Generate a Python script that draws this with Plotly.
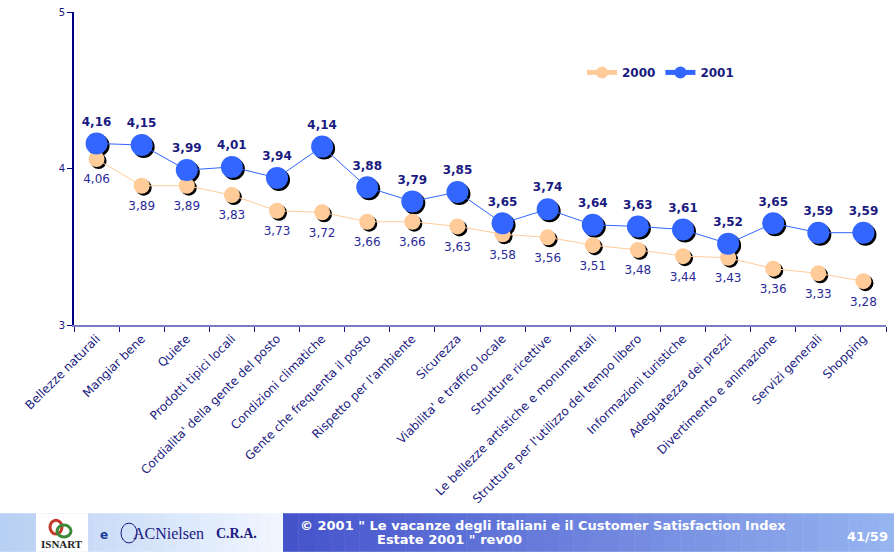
import plotly.graph_objects as go

categories = [
    "Bellezze naturali", "Mangiar bene", "Quiete", "Prodotti tipici locali",
    "Cordialita' della gente del posto", "Condizioni climatiche",
    "Gente che frequenta il posto", "Rispetto per l'ambiente", "Sicurezza",
    "Viabilita' e traffico locale", "Strutture ricettive",
    "Le bellezze artistiche e monumentali",
    "Strutture per l'utilizzo del tempo libero", "Informazioni turistiche",
    "Adeguatezza dei prezzi", "Divertimento e animazione",
    "Servizi generali", "Shopping",
]
values_2000 = [4.06, 3.89, 3.89, 3.83, 3.73, 3.72, 3.66, 3.66, 3.63,
               3.58, 3.56, 3.51, 3.48, 3.44, 3.43, 3.36, 3.33, 3.28]
values_2001 = [4.16, 4.15, 3.99, 4.01, 3.94, 4.14, 3.88, 3.79, 3.85,
               3.65, 3.74, 3.64, 3.63, 3.61, 3.52, 3.65, 3.59, 3.59]
y_ticks = [3, 4, 5]

W, H = 894, 554
L, R, T, B = 74, 6, 9, 227
pw = W - L - R      # 814
ph = H - T - B      # 318
sh = 2              # shadow offset in px

NAVY = "#1a1a80"
BLUE = "#3366ff"
ORANGE = "#ffcc99"
FONT = "DejaVu Sans"

fig = go.Figure()

# shadows (drawn on base subplot, shifted)
fig.add_trace(go.Scatter(x=categories, y=values_2000, mode="markers",
                         marker=dict(size=16, color="#000000"),
                         showlegend=False, hoverinfo="skip", cliponaxis=False,
                         xaxis="x", yaxis="y"))
fig.add_trace(go.Scatter(x=categories, y=values_2001, mode="markers",
                         marker=dict(size=22, color="#000000"),
                         showlegend=False, hoverinfo="skip", cliponaxis=False,
                         xaxis="x", yaxis="y"))

# main series
fig.add_trace(go.Scatter(x=categories, y=values_2000, name="2000",
                         mode="lines+markers",
                         line=dict(color=ORANGE, width=1),
                         marker=dict(size=16, color=ORANGE),
                         cliponaxis=False, xaxis="x2", yaxis="y2"))
# 2000 value labels (transparent larger marker gives label spacing)
fig.add_trace(go.Scatter(x=categories, y=values_2000, mode="markers+text",
                         marker=dict(size=23, color="rgba(0,0,0,0)"),
                         texttemplate="%{y:.2f}", textposition="bottom center",
                         textfont=dict(family=FONT, size=12, color="#2b2b99"),
                         showlegend=False, hoverinfo="skip",
                         cliponaxis=False, xaxis="x2", yaxis="y2"))
fig.add_trace(go.Scatter(x=categories, y=values_2001, name="2001",
                         mode="lines+markers+text",
                         line=dict(color=BLUE, width=1),
                         marker=dict(size=22, color=BLUE),
                         texttemplate="<b>%{y:.2f}</b>", textposition="top center",
                         textfont=dict(family=FONT, size=12, color=NAVY),
                         cliponaxis=False, xaxis="x2", yaxis="y2"))

fig.update_layout(
    width=W, height=H,
    margin=dict(l=L, r=R, t=T, b=B),
    paper_bgcolor="white", plot_bgcolor="rgba(0,0,0,0)",
    separators=",.",
    font=dict(family=FONT, color=NAVY),
    xaxis=dict(domain=[sh / pw, 1], range=[-0.5, 17.5], visible=False,
               type="category", categoryorder="array", categoryarray=categories),
    yaxis=dict(domain=[0, 1 - sh / ph], range=[3, 5], visible=False, anchor="x"),
    xaxis2=dict(domain=[0, 1 - sh / pw], range=[-0.5, 17.5], anchor="y2",
                type="category", categoryorder="array", categoryarray=categories,
                showline=True, linecolor="#7c7cc4", linewidth=2,
                ticks="outside", tickson="boundaries", ticklen=5, tickcolor="#1a1a80",
                tickwidth=1, tickangle=-45, showgrid=False, zeroline=False,
                tickfont=dict(family=FONT, size=12, color=NAVY)),
    yaxis2=dict(domain=[sh / ph, 1], range=[3, 5], anchor="x2",
                showline=True, linecolor="#000080", linewidth=2,
                tickvals=y_ticks, ticktext=[str(v) for v in y_ticks],
                ticks="outside", ticklen=5, tickcolor="#000080",
                showgrid=False, zeroline=False,
                tickfont=dict(family=FONT, size=10, color=NAVY)),
    legend=dict(orientation="h", x=(582 - L) / pw, y=1 - (70 - T) / ph,
                xanchor="left", yanchor="middle", itemsizing="constant",
                bgcolor="rgba(0,0,0,0)",
                font=dict(family=FONT, size=12, color=NAVY, weight="bold"),
                itemwidth=30, tracegroupgap=0),
    showlegend=True,
)

# ---- bottom banner ----
def px_x(p):
    return (p - L) / pw

def px_y(p):
    return (H - B - p) / ph

shapes = []
top, bot = 515, 554
# left light section gradient
n = 24
x0, x1 = 0, 283
c0, c1 = (184, 208, 244), (240, 246, 255)
for i in range(n):
    a = x0 + (x1 - x0) * i / n
    b = x0 + (x1 - x0) * (i + 1) / n + 0.5
    t = i / (n - 1)
    col = tuple(int(c0[k] + (c1[k] - c0[k]) * t) for k in range(3))
    shapes.append(dict(type="rect", xref="paper", yref="paper",
                       x0=px_x(a), x1=px_x(b), y0=px_y(bot), y1=px_y(top),
                       fillcolor="rgb(%d,%d,%d)" % col, line=dict(width=0),
                       layer="below"))
# right dark section gradient
n = 40
x0, x1 = 283, 894
c0, c1 = (70, 84, 204), (150, 180, 240)
for i in range(n):
    a = x0 + (x1 - x0) * i / n
    b = x0 + (x1 - x0) * (i + 1) / n + 0.5
    t = i / (n - 1)
    col = tuple(int(c0[k] + (c1[k] - c0[k]) * t) for k in range(3))
    shapes.append(dict(type="rect", xref="paper", yref="paper",
                       x0=px_x(a), x1=px_x(b), y0=px_y(bot), y1=px_y(top),
                       fillcolor="rgb(%d,%d,%d)" % col, line=dict(width=0),
                       layer="below"))
# ISNART white box
shapes.append(dict(type="rect", xref="paper", yref="paper",
                   x0=px_x(36), x1=px_x(88), y0=px_y(bot), y1=px_y(top),
                   fillcolor="white", line=dict(width=0), layer="below"))
# tiny logo mark
shapes.append(dict(type="circle", xref="paper", yref="paper",
                   x0=px_x(50), x1=px_x(62), y0=px_y(536), y1=px_y(522),
                   fillcolor="rgba(0,0,0,0)", line=dict(color="#c0392b", width=3),
                   layer="above"))
shapes.append(dict(type="circle", xref="paper", yref="paper",
                   x0=px_x(57), x1=px_x(71), y0=px_y(539), y1=px_y(527),
                   fillcolor="rgba(0,0,0,0)", line=dict(color="#3a8a3a", width=3),
                   layer="above"))
# ACNielsen swirl
shapes.append(dict(type="circle", xref="paper", yref="paper",
                   x0=px_x(121), x1=px_x(137), y0=px_y(545), y1=px_y(525),
                   fillcolor="rgba(0,0,0,0)", line=dict(color="#1a1a80", width=1),
                   layer="above"))
fig.update_layout(shapes=shapes)

ann = [
    dict(text="<b>ISNART</b>", x=px_x(62), y=px_y(546), font=dict(family="Liberation Serif", size=11, color="#222222")),
    dict(text="<b>e</b>", x=px_x(104), y=px_y(537), font=dict(family=FONT, size=12, color="#1a3a9a")),
    dict(text="ACNielsen", x=px_x(168), y=px_y(535), font=dict(family="Liberation Serif", size=16, color="#1a1a80")),
    dict(text="<b>C.R.A.</b>", x=px_x(236), y=px_y(535), font=dict(family="Liberation Serif", size=14, color="#1a1a80")),
    dict(text="<b>© 2001 \" Le vacanze degli italiani e il Customer Satisfaction Index</b>",
         x=px_x(298), y=px_y(527), xanchor="left", font=dict(family=FONT, size=13, color="white")),
    dict(text="<b>Estate 2001 \" rev00</b>", x=px_x(375), y=px_y(542), xanchor="left",
         font=dict(family=FONT, size=13, color="white")),
    dict(text="<b>41/59</b>", x=px_x(890), y=px_y(538), xanchor="right",
         font=dict(family=FONT, size=13, color="white")),
]
for a in ann:
    a.setdefault("xanchor", "center")
    a.update(xref="paper", yref="paper", yanchor="middle", showarrow=False)
fig.update_layout(annotations=ann)

fig.write_html("out.html", config={"displayModeBar": False},
               post_script="document.body.style.margin='0';document.body.style.padding='0';")
